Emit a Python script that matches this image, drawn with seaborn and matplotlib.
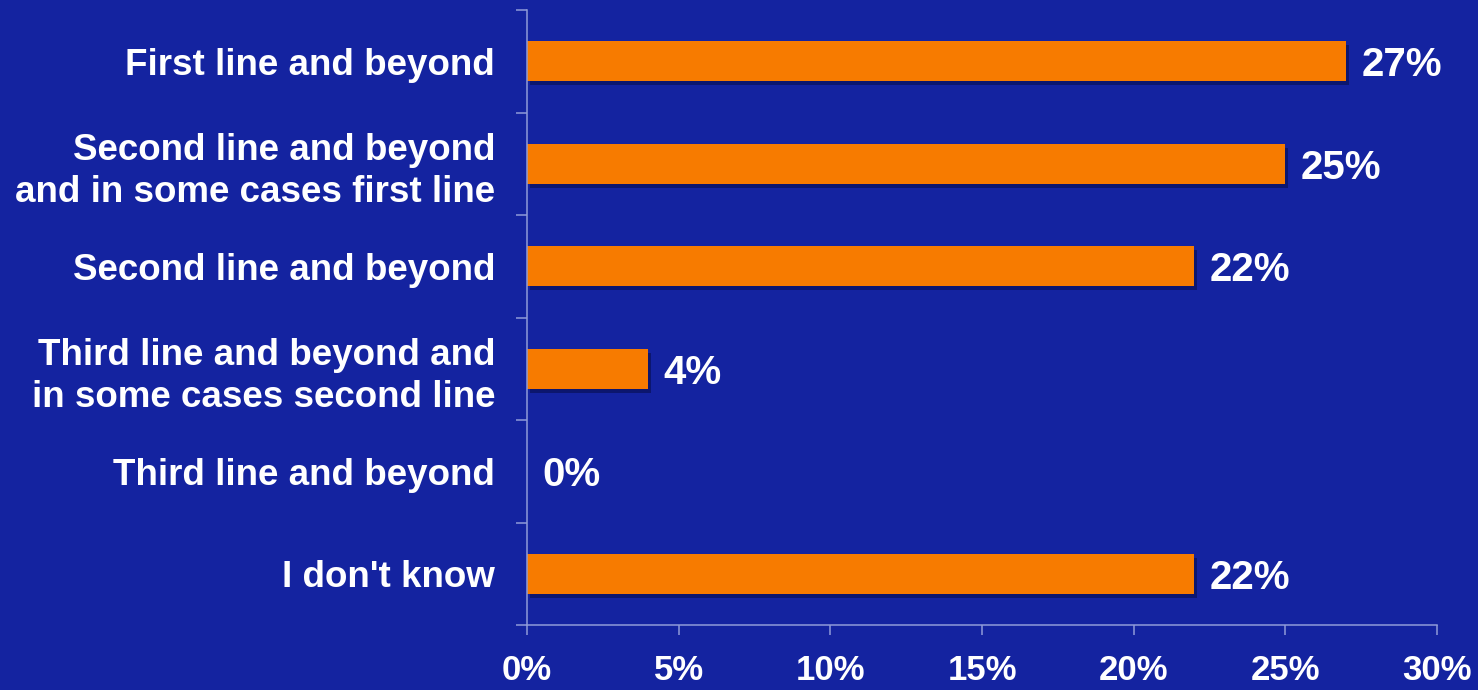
import matplotlib
matplotlib.use("Agg")
import matplotlib.pyplot as plt
import matplotlib.patheffects as pe
from matplotlib.ticker import FixedLocator, FuncFormatter
import seaborn as sns
import pandas as pd
import numpy as np

categories = [
    "First line and beyond",
    "Second line and beyond\nand in some cases first line",
    "Second line and beyond",
    "Third line and beyond and\nin some cases second line",
    "Third line and beyond",
    "I don't know",
]
values = [27, 25, 22, 4, 0, 22]
x_ticks = [0, 5, 10, 15, 20, 25, 30]

BG = "#1423A0"
ORANGE = "#F77B00"
AXIS = "#8F9BD9"

sns.set_theme(style="white")
plt.rcParams["font.family"] = ["Liberation Sans", "DejaVu Sans"]
plt.rcParams["font.weight"] = "bold"

df = pd.DataFrame({"category": categories, "value": values})

fig = plt.figure(figsize=(14.78, 6.90), dpi=100, facecolor=BG)
ax = fig.add_axes([0.3566, 0.0942, 0.6157, 0.8913])
ax.set_facecolor(BG)

sns.barplot(data=df, x="value", y="category", orient="h", color=ORANGE,
            width=0.39, saturation=1, edgecolor="none", ax=ax)

for bar in ax.patches:
    bar.set_path_effects([
        pe.SimplePatchShadow(offset=(2, -3), shadow_rgbFace="#050a40", alpha=0.5),
        pe.Normal(),
    ])

for i, v in enumerate(values):
    ax.text(v + 0.5, i, f"{v}%", va="center_baseline", ha="left", color="white",
            fontsize=29, fontweight="bold")

ax.set_xlim(0, 30)
ax.set_ylim(len(categories) - 0.5, -0.5)
ax.xaxis.set_major_locator(FixedLocator(x_ticks))
ax.xaxis.set_major_formatter(FuncFormatter(lambda x, _: f"{int(x)}%"))
ax.set_xlabel("")
ax.set_ylabel("")

# category labels at the bar centres, tick marks at the band boundaries
ax.tick_params(axis="y", which="major", length=0, pad=23, labelsize=26.5,
               labelcolor="white")
ax.yaxis.set_minor_locator(FixedLocator(np.arange(-0.5, len(categories), 1.0)))
ax.tick_params(axis="y", which="minor", length=8, width=1.1, color=AXIS,
               direction="out", left=True)
ax.tick_params(axis="x", which="major", length=7, width=1.1, color=AXIS,
               direction="out", bottom=True, pad=14, labelsize=25,
               labelcolor="white")
for lab in ax.get_yticklabels() + ax.get_xticklabels():
    lab.set_fontweight("bold")
for lab in ax.get_yticklabels():
    lab.set_linespacing(1.25)

for side in ["top", "right"]:
    ax.spines[side].set_visible(False)
for side in ["left", "bottom"]:
    ax.spines[side].set_visible(True)
    ax.spines[side].set_color(AXIS)
    ax.spines[side].set_linewidth(1.1)

fig.savefig("out.png", dpi=100, facecolor=BG)
